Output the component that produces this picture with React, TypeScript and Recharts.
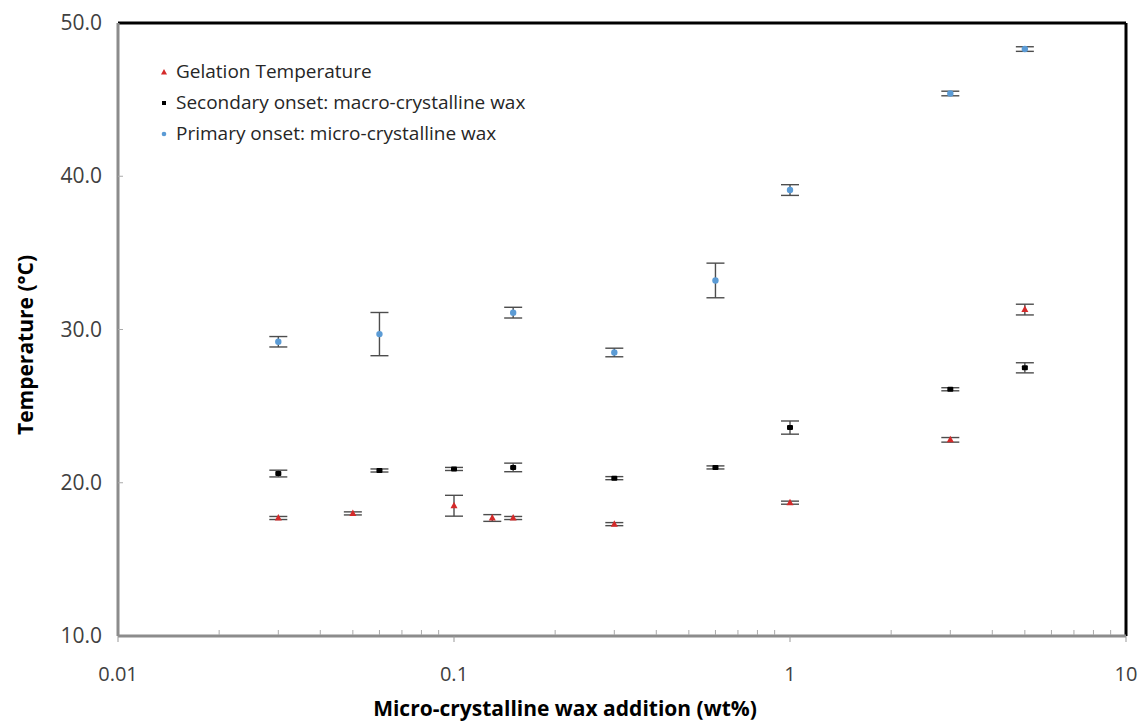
import React from 'react';
import {
  ScatterChart, Scatter, XAxis, YAxis, ErrorBar, ReferenceLine, Legend, Label,
} from 'recharts';

// Gelation temperature
const gelX = [0.03, 0.05, 0.1, 0.13, 0.15, 0.3, 1, 3, 5];
const gelY = [17.7, 18.0, 18.5, 17.7, 17.7, 17.3, 18.7, 22.8, 31.3];
const gelErr = [0.1, 0.1, 0.68, 0.22, 0.1, 0.1, 0.1, 0.15, 0.35];

// Secondary onset: macro-crystalline wax
const secX = [0.03, 0.06, 0.1, 0.15, 0.3, 0.6, 1, 3, 5];
const secY = [20.6, 20.8, 20.9, 21.0, 20.3, 21.0, 23.6, 26.1, 27.5];
const secErr = [0.22, 0.1, 0.1, 0.28, 0.1, 0.1, 0.43, 0.1, 0.33];

// Primary onset: micro-crystalline wax
const priX = [0.03, 0.06, 0.15, 0.3, 0.6, 1, 3, 5];
const priY = [29.2, 29.7, 31.1, 28.5, 33.2, 39.1, 45.4, 48.3];
const priErr = [0.34, 1.41, 0.35, 0.28, 1.13, 0.35, 0.15, 0.15];

const majorX = [0.01, 0.1, 1, 10];
const majorXLabels = ['0.01', '0.1', '1', '10'];
const allXTicks = [
  0.01, 0.02, 0.03, 0.04, 0.05, 0.06, 0.07, 0.08, 0.09,
  0.1, 0.2, 0.3, 0.4, 0.5, 0.6, 0.7, 0.8, 0.9,
  1, 2, 3, 4, 5, 6, 7, 8, 9, 10,
];
const yTicks = [10, 20, 30, 40, 50];

const FONT = '"Open Sans", Lato, sans-serif';
const RED = '#d42a2a';
const BLACK = '#000000';
const BLUE = '#5b9bd5';
const ERR = '#4d4d4d';

const build = (xs: number[], ys: number[], es: number[]) =>
  xs.map((x, i) => ({ x, y: ys[i], err: es[i] }));

const gelData = build(gelX, gelY, gelErr);
const secData = build(secX, secY, secErr);
const priData = build(priX, priY, priErr);

const Tri = (p: any) => (
  <polygon points={`${p.cx},${p.cy - 4} ${p.cx + 3.5},${p.cy + 2.5} ${p.cx - 3.5},${p.cy + 2.5}`} fill={RED} />
);
const Sq = (p: any) => <rect x={p.cx - 3} y={p.cy - 2.5} width={6} height={5} rx={1} fill={BLACK} />;
const Dot = (p: any) => <circle cx={p.cx} cy={p.cy} r={3.2} fill={BLUE} />;

const XTick = (props: any) => {
  const { x, y, payload } = props;
  const idx = majorX.indexOf(payload.value);
  if (idx >= 0) {
    return (
      <g>
        <line x1={x} x2={x} y1={y} y2={y + 6} stroke="#999" strokeWidth={1} />
        <text x={x} y={y + 45} textAnchor="middle" fontSize={20} fill="#404040" fontFamily={FONT}>
          {majorXLabels[idx]}
        </text>
      </g>
    );
  }
  return <line x1={x} x2={x} y1={y - 1} y2={y - 6} stroke="#aaa" strokeWidth={1} />;
};

const YTick = (props: any) => {
  const { x, y, payload } = props;
  return (
    <g>
      {payload.value !== 10 && payload.value !== 50 && (
        <line x1={x} x2={x + 5} y1={y} y2={y} stroke="#aaa" strokeWidth={1} />
      )}
      <text x={x - 16} y={y + 7} textAnchor="end" fontSize={21} fill="#404040" fontFamily={FONT}>
        {payload.value.toFixed(1)}
      </text>
    </g>
  );
};

const legendItems = [
  { name: 'Gelation Temperature', color: RED, shape: 'triangle' },
  { name: 'Secondary onset: macro-crystalline wax', color: BLACK, shape: 'square' },
  { name: 'Primary onset: micro-crystalline wax', color: BLUE, shape: 'circle' },
];

const LegendContent = () => (
  <div style={{ fontFamily: FONT, fontSize: 19, color: '#262626', lineHeight: '31px' }}>
    {legendItems.map((it) => (
      <div key={it.name} style={{ display: 'flex', alignItems: 'center', height: 31 }}>
        <svg width={14} height={12} style={{ marginRight: 4 }}>
          {it.shape === 'triangle' && <polygon points="6,3 9,8.5 3,8.5" fill={it.color} />}
          {it.shape === 'square' && <rect x={4} y={4} width={4} height={4} fill={it.color} />}
          {it.shape === 'circle' && <circle cx={6} cy={6} r={2.3} fill={it.color} />}
        </svg>
        <span>{it.name}</span>
      </div>
    ))}
  </div>
);

const XTitle = (props: any) => {
  const { viewBox } = props;
  return (
    <text
      x={viewBox.x + viewBox.width / 2 - 57}
      y={viewBox.y + 80}
      textAnchor="middle"
      fontFamily={FONT}
      fontSize={21}
      fontWeight={700}
      fill="#000"
    >
      Micro-crystalline wax addition (wt%)
    </text>
  );
};

const YTitle = () => (
  <text
    x={25}
    y={345}
    transform="rotate(-90, 25, 345)"
    textAnchor="middle"
    dominantBaseline="central"
    fontFamily={FONT}
    fontSize={21}
    fontWeight={700}
    fill="#000"
  >
    Temperature (°C)
  </text>
);

export default function App() {
  return (
    <div style={{ position: 'absolute', left: 0, top: 0, background: '#fff' }}>
      <ScatterChart width={1142} height={722} margin={{ top: 23, right: 16, bottom: 0, left: 0 }}>
        <XAxis
          type="number"
          dataKey="x"
          scale="log"
          domain={[0.01, 10]}
          ticks={allXTicks}
          interval={0}
          allowDataOverflow
          height={86}
          tickSize={0}
          tickMargin={0}
          tickLine={false}
          tick={<XTick />}
          axisLine={{ stroke: '#8c8c8c', strokeWidth: 3 }}
        >
          <Label content={<XTitle />} />
        </XAxis>
        <YAxis
          type="number"
          dataKey="y"
          domain={[10, 50]}
          ticks={yTicks}
          interval={0}
          width={118}
          tickSize={0}
          tickMargin={0}
          tickLine={false}
          tick={<YTick />}
          axisLine={{ stroke: '#8c8c8c', strokeWidth: 3 }}
        >
          <Label content={<YTitle />} />
        </YAxis>
        <ReferenceLine y={50} stroke="#000" strokeWidth={3} />
        <ReferenceLine x={10} stroke="#000" strokeWidth={3} />
        <Legend
          layout="vertical"
          align="center"
          verticalAlign="middle"
          content={<LegendContent />}
          wrapperStyle={{ left: 158, top: 56, width: 460 }}
        />
        <Scatter name="Gelation Temperature" data={gelData} fill={RED} shape={<Tri />} isAnimationActive={false}>
          <ErrorBar dataKey="err" direction="y" width={9} stroke={ERR} strokeWidth={1.4} />
        </Scatter>
        <Scatter name="Secondary onset: macro-crystalline wax" data={secData} fill={BLACK} shape={<Sq />} isAnimationActive={false}>
          <ErrorBar dataKey="err" direction="y" width={9} stroke={ERR} strokeWidth={1.4} />
        </Scatter>
        <Scatter name="Primary onset: micro-crystalline wax" data={priData} fill={BLUE} shape={<Dot />} isAnimationActive={false}>
          <ErrorBar dataKey="err" direction="y" width={9} stroke={ERR} strokeWidth={1.4} />
        </Scatter>
      </ScatterChart>
    </div>
  );
}
